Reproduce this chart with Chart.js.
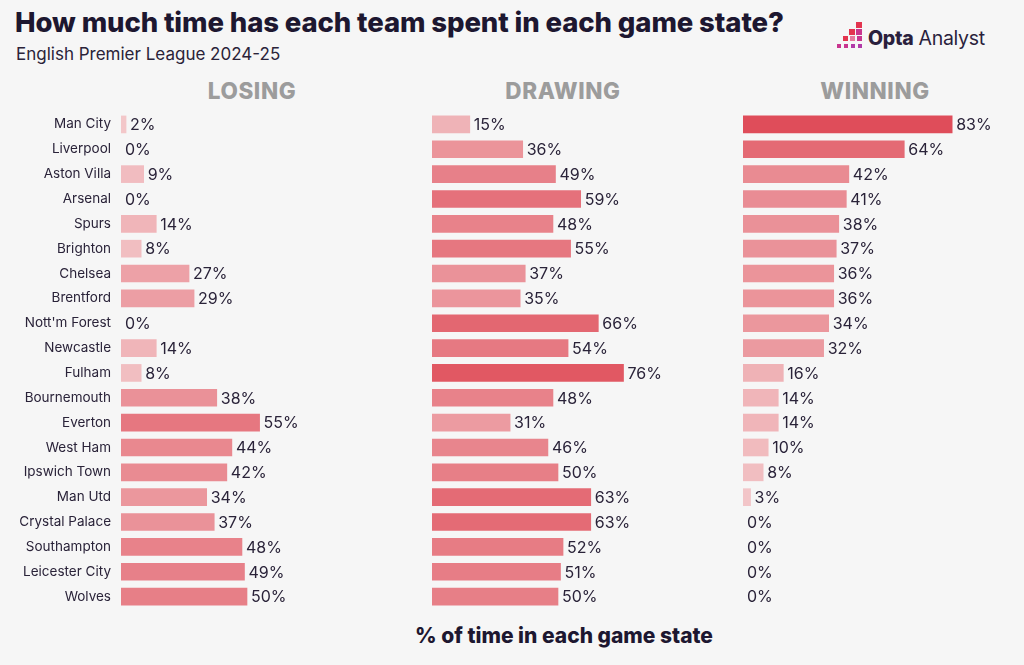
<!DOCTYPE html>
<html>
<head>
<meta charset="utf-8">
<script src="https://cdn.jsdelivr.net/npm/chart.js@4.4.1/dist/chart.umd.min.js"></script>
<style>
  html, body { margin:0; padding:0; background:#f6f6f6; }
  body { width:1024px; height:665px; position:relative; overflow:hidden; font-family: Inter, "Noto Sans", sans-serif; color:#1d1730; }
  .abs { position:absolute; }
  #title { left:15px; top:5px; font-size:27.5px; font-weight:800; white-space:nowrap; letter-spacing:-0.1px; }
  #sub { left:16px; top:44px; font-size:17px; font-weight:400; color:#2a2339; white-space:nowrap; }
  .hdr { top:77px; width:200px; text-align:center; font-size:22.5px; font-weight:800; color:#9c9c9c; letter-spacing:0.6px; }
  #xtitle { left:364px; width:400px; top:623px; text-align:center; font-size:21px; font-weight:800; white-space:nowrap; }
  canvas { position:absolute; }
  .sq { position:absolute; width:6px; height:6px; }
  #logotext { left:868px; top:26px; font-size:19.5px; color:#2a1f3d; white-space:nowrap; letter-spacing:-0.3px; }
</style>
</head>
<body>
<div id="title" class="abs">How much time has each team spent in each game state?</div>
<div id="sub" class="abs">English Premier League 2024-25</div>
<div class="abs hdr" style="left:152px">LOSING</div>
<div class="abs hdr" style="left:463px">DRAWING</div>
<div class="abs hdr" style="left:775px">WINNING</div>
<div id="xtitle" class="abs">% of time in each game state</div>

<div id="logo">
  <div class="sq" style="left:856px;top:22px;background:#e3344f"></div>
  <div class="sq" style="left:849px;top:29px;background:#e3344f"></div>
  <div class="sq" style="left:856px;top:29px;background:#c9358f"></div>
  <div class="sq" style="left:843px;top:36px;width:5px;height:5px;background:#e3344f"></div>
  <div class="sq" style="left:850px;top:36px;width:5px;height:5px;background:#e57a9e"></div>
  <div class="sq" style="left:857px;top:36px;width:5px;height:5px;background:#c9358f"></div>
  <div class="sq" style="left:837px;top:44px;width:4px;height:4px;background:#c9358f"></div>
  <div class="sq" style="left:844px;top:44px;width:4px;height:4px;background:#c9358f"></div>
  <div class="sq" style="left:851px;top:44px;width:4px;height:4px;background:#b13aa8"></div>
  <div class="sq" style="left:858px;top:44px;width:4px;height:4px;background:#b13aa8"></div>
</div>
<div id="logotext" class="abs"><b style="font-weight:800">Opta</b> Analyst</div>

<canvas id="c1"></canvas>
<canvas id="c2"></canvas>
<canvas id="c3"></canvas>

<script>
const teams = ["Man City","Liverpool","Aston Villa","Arsenal","Spurs","Brighton","Chelsea","Brentford","Nott'm Forest","Newcastle","Fulham","Bournemouth","Everton","West Ham","Ipswich Town","Man Utd","Crystal Palace","Southampton","Leicester City","Wolves"];
const losing  = [2,0,9,0,14,8,27,29,0,14,8,38,55,44,42,34,37,48,49,50];
const drawing = [15,36,49,59,48,55,37,35,66,54,76,48,31,46,50,63,63,52,51,50];
const winning = [83,64,42,41,38,37,36,36,34,32,16,14,14,10,8,3,0,0,0,0];

const LOW = [243,202,204], HIGH = [223,74,87];
function colorFor(v) {
  if (v === 0) return 'rgba(0,0,0,0)';
  const t = Math.min(v / 85, 1);
  const c = LOW.map((l, i) => Math.round(l + (HIGH[i] - l) * t));
  return `rgb(${c[0]},${c[1]},${c[2]})`;
}

const valueLabels = {
  id: 'valueLabels',
  afterDatasetsDraw(chart) {
    const ctx = chart.ctx;
    const ds = chart.data.datasets[0];
    const meta = chart.getDatasetMeta(0);
    ctx.save();
    ctx.font = '400 16px Inter, "Noto Sans", sans-serif';
    ctx.fillStyle = '#2a2339';
    ctx.textAlign = 'left';
    ctx.textBaseline = 'middle';
    meta.data.forEach((bar, i) => {
      ctx.fillText(ds.data[i] + '%', bar.x + 4, bar.y + 1);
    });
    ctx.restore();
  }
};

const TOP = 112, H = 497;
function makeChart(id, left, width, values, showLabels) {
  const cv = document.getElementById(id);
  cv.style.left = left + 'px';
  cv.style.top = TOP + 'px';
  cv.style.width = width + 'px';
  cv.style.height = H + 'px';
  cv.width = width; cv.height = H;
  return new Chart(cv, {
    type: 'bar',
    data: {
      labels: teams,
      datasets: [{
        data: values,
        backgroundColor: values.map(colorFor),
        borderWidth: 0,
        barThickness: 17
      }]
    },
    options: {
      indexAxis: 'y',
      responsive: false,
      animation: false,
      devicePixelRatio: 1,
      layout: { padding: { left: 0, right: 10, top: 0, bottom: 0 } },
      plugins: { legend: { display: false }, tooltip: { enabled: false } },
      scales: {
        x: { display: false, min: 0, max: 100 },
        y: {
          display: showLabels,
          grid: { display: false, drawTicks: false },
          border: { display: false },
          ticks: {
            padding: 10,
            color: '#2a2339',
            font: { family: 'Inter, "Noto Sans", sans-serif', size: 13.5 }
          },
          afterFit(s) {
            s.width = showLabels ? 121 : 0;
            s.paddingTop = 0; s.paddingBottom = 0;
          }
        }
      }
    },
    plugins: [valueLabels]
  });
}

makeChart('c1', 0, 383, losing, true);
makeChart('c2', 432, 262, drawing, false);
makeChart('c3', 743, 262, winning, false);
</script>
</body>
</html>
